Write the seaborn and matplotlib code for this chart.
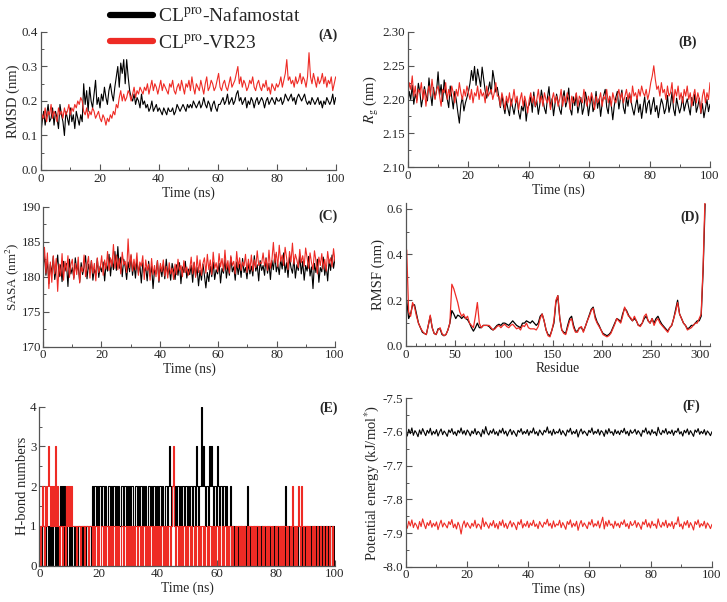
import numpy as np
import matplotlib
matplotlib.use("Agg")
import matplotlib.pyplot as plt
from matplotlib.ticker import MultipleLocator, FormatStrFormatter
import seaborn as sns

# --- series ---
LABELS = [r"CL$^{\rm pro}$-Nafamostat", r"CL$^{\rm pro}$-VR23"]
BLACK = "black"
RED = "#ee2b25"

# (A) RMSD (nm), 0-100 ns
RMSD_NAFA = [
    0.10, 0.14, 0.17, 0.13, 0.16, 0.19, 0.14, 0.15, 0.18, 0.13, 0.17, 0.15, 0.12, 0.19, 0.16, 0.14, 0.10, 0.17, 0.15, 0.13,
    0.18, 0.14, 0.16, 0.12, 0.17, 0.15, 0.13, 0.16, 0.14, 0.25, 0.19, 0.23, 0.17, 0.24, 0.20, 0.18, 0.22, 0.26, 0.19, 0.21,
    0.18, 0.22, 0.20, 0.24, 0.21, 0.19, 0.23, 0.25, 0.22, 0.20, 0.24, 0.27, 0.30, 0.24, 0.31, 0.28, 0.32, 0.25, 0.32, 0.27,
    0.23, 0.21, 0.20, 0.22, 0.19, 0.21, 0.20, 0.18, 0.22, 0.19, 0.20, 0.18, 0.19, 0.17, 0.18, 0.20, 0.17, 0.18, 0.19, 0.17,
    0.18, 0.17, 0.16, 0.18, 0.17, 0.16, 0.18, 0.17, 0.17, 0.18, 0.16, 0.17, 0.19, 0.18, 0.17, 0.18, 0.19, 0.18, 0.17, 0.19,
    0.18, 0.19, 0.18, 0.20, 0.19, 0.18, 0.19, 0.20, 0.18, 0.19, 0.21, 0.19, 0.18, 0.20, 0.19, 0.17, 0.19, 0.20, 0.18, 0.17,
    0.19, 0.19, 0.20, 0.21, 0.19, 0.20, 0.22, 0.19, 0.20, 0.21, 0.19, 0.20, 0.22, 0.23, 0.20, 0.21, 0.19, 0.20, 0.21, 0.18,
    0.20, 0.19, 0.21, 0.20, 0.18, 0.20, 0.21, 0.19, 0.20, 0.21, 0.20, 0.18, 0.20, 0.21, 0.19, 0.20, 0.21, 0.20, 0.19, 0.21,
    0.20, 0.20, 0.21, 0.19, 0.20, 0.22, 0.21, 0.20, 0.21, 0.22, 0.20, 0.21, 0.19, 0.21, 0.22, 0.21, 0.20, 0.21, 0.22, 0.20,
    0.19, 0.20, 0.19, 0.21, 0.20, 0.19, 0.20, 0.21, 0.19, 0.20, 0.18, 0.20, 0.19, 0.21, 0.20, 0.19, 0.20, 0.22, 0.19, 0.21,
]
RMSD_VR23 = [
    0.12, 0.16, 0.15, 0.18, 0.14, 0.17, 0.16, 0.19, 0.15, 0.17, 0.16, 0.14, 0.18, 0.16, 0.17, 0.15, 0.18, 0.16, 0.17, 0.19,
    0.16, 0.18, 0.17, 0.19, 0.18, 0.20, 0.19, 0.21, 0.20, 0.17, 0.16, 0.18, 0.15, 0.17, 0.16, 0.18, 0.17, 0.15, 0.16, 0.17,
    0.15, 0.14, 0.16, 0.15, 0.13, 0.15, 0.14, 0.16, 0.15, 0.17, 0.16, 0.19, 0.18, 0.21, 0.23, 0.20, 0.22, 0.20, 0.21, 0.23,
    0.22, 0.20, 0.22, 0.24, 0.21, 0.23, 0.22, 0.24, 0.23, 0.22, 0.24, 0.23, 0.25, 0.22, 0.24, 0.26, 0.23, 0.25, 0.24, 0.22,
    0.24, 0.26, 0.23, 0.25, 0.24, 0.23, 0.22, 0.25, 0.24, 0.26, 0.23, 0.22, 0.24, 0.25, 0.23, 0.26, 0.24, 0.22, 0.25, 0.24,
    0.26, 0.23, 0.27, 0.24, 0.22, 0.25, 0.24, 0.23, 0.26, 0.24, 0.22, 0.25, 0.27, 0.23, 0.24, 0.26, 0.25, 0.23, 0.24, 0.26,
    0.28, 0.24, 0.23, 0.25, 0.26, 0.24, 0.23, 0.25, 0.27, 0.24, 0.25, 0.26, 0.28, 0.30, 0.25, 0.27, 0.24, 0.26, 0.25, 0.23,
    0.24, 0.26, 0.25, 0.27, 0.24, 0.23, 0.25, 0.26, 0.24, 0.23, 0.25, 0.24, 0.26, 0.23, 0.24, 0.22, 0.25, 0.24, 0.23, 0.25,
    0.24, 0.25, 0.27, 0.24, 0.26, 0.28, 0.32, 0.26, 0.27, 0.25, 0.26, 0.24, 0.27, 0.25, 0.26, 0.28, 0.25, 0.27, 0.26, 0.24,
    0.27, 0.34, 0.27, 0.25, 0.28, 0.26, 0.24, 0.27, 0.25, 0.26, 0.28, 0.25, 0.27, 0.24, 0.26, 0.25, 0.27, 0.23, 0.25, 0.27,
]

# (B) radius of gyration (nm)
RG_NAFA = [
    2.190, 2.212, 2.200, 2.221, 2.193, 2.208, 2.199, 2.224, 2.211, 2.189, 2.203, 2.219, 2.207, 2.198, 2.232, 2.209, 2.191, 2.218, 2.202, 2.213,
    2.241, 2.206, 2.222, 2.197, 2.229, 2.210, 2.201, 2.188, 2.220, 2.203, 2.186, 2.212, 2.199, 2.181, 2.165, 2.192, 2.204, 2.183, 2.195, 2.203,
    2.212, 2.224, 2.243, 2.228, 2.249, 2.221, 2.245, 2.232, 2.219, 2.248, 2.231, 2.213, 2.202, 2.214, 2.226, 2.208, 2.243, 2.229, 2.211, 2.218,
    2.203, 2.188, 2.207, 2.191, 2.179, 2.198, 2.186, 2.176, 2.201, 2.189, 2.178, 2.193, 2.202, 2.181, 2.171, 2.190, 2.183, 2.199, 2.168, 2.188,
    2.192, 2.204, 2.181, 2.211, 2.189, 2.198, 2.178, 2.193, 2.214, 2.200, 2.187, 2.179, 2.203, 2.219, 2.188, 2.201, 2.176, 2.194, 2.208, 2.197,
    2.185, 2.178, 2.202, 2.213, 2.189, 2.199, 2.217, 2.186, 2.177, 2.204, 2.191, 2.209, 2.180, 2.192, 2.203, 2.178, 2.188, 2.211, 2.199, 2.176,
    2.193, 2.205, 2.182, 2.190, 2.212, 2.187, 2.201, 2.175, 2.194, 2.206, 2.215, 2.189, 2.179, 2.204, 2.192, 2.170, 2.191, 2.203, 2.212, 2.186,
    2.201, 2.214, 2.188, 2.179, 2.203, 2.190, 2.209, 2.198, 2.186, 2.177, 2.191, 2.202, 2.181, 2.193, 2.172, 2.189, 2.204, 2.180, 2.194, 2.199,
    2.178, 2.192, 2.203, 2.182, 2.191, 2.173, 2.188, 2.201, 2.193, 2.179, 2.187, 2.206, 2.181, 2.192, 2.211, 2.186, 2.176, 2.202, 2.190, 2.180,
    2.189, 2.204, 2.183, 2.193, 2.201, 2.188, 2.177, 2.203, 2.191, 2.208, 2.181, 2.190, 2.202, 2.179, 2.194, 2.173, 2.186, 2.200, 2.182, 2.193,
]
RG_VR23 = [
    2.200, 2.225, 2.215, 2.235, 2.205, 2.220, 2.195, 2.215, 2.210, 2.225, 2.200, 2.215, 2.190, 2.210, 2.220, 2.205, 2.230, 2.210, 2.200, 2.215,
    2.220, 2.205, 2.190, 2.215, 2.210, 2.225, 2.200, 2.215, 2.205, 2.220, 2.210, 2.195, 2.215, 2.205, 2.225, 2.210, 2.200, 2.215, 2.205, 2.220,
    2.210, 2.200, 2.215, 2.195, 2.210, 2.205, 2.220, 2.200, 2.215, 2.205, 2.210, 2.195, 2.220, 2.205, 2.210, 2.215, 2.200, 2.210, 2.225, 2.205,
    2.205, 2.190, 2.210, 2.200, 2.185, 2.205, 2.195, 2.210, 2.190, 2.200, 2.215, 2.195, 2.205, 2.185, 2.200, 2.210, 2.190, 2.205, 2.195, 2.180,
    2.200, 2.210, 2.195, 2.205, 2.190, 2.200, 2.215, 2.195, 2.205, 2.190, 2.210, 2.200, 2.195, 2.205, 2.185, 2.200, 2.210, 2.195, 2.205, 2.190,
    2.200, 2.215, 2.190, 2.205, 2.195, 2.210, 2.200, 2.185, 2.205, 2.195, 2.200, 2.210, 2.190, 2.205, 2.200, 2.195, 2.215, 2.200, 2.190, 2.205,
    2.195, 2.210, 2.200, 2.185, 2.205, 2.195, 2.200, 2.210, 2.190, 2.205, 2.200, 2.215, 2.195, 2.205, 2.190, 2.210, 2.200, 2.195, 2.205, 2.215,
    2.200, 2.210, 2.195, 2.205, 2.215, 2.200, 2.210, 2.195, 2.220, 2.205, 2.210, 2.200, 2.215, 2.205, 2.220, 2.210, 2.205, 2.215, 2.200, 2.210,
    2.225, 2.235, 2.250, 2.230, 2.215, 2.220, 2.205, 2.225, 2.210, 2.215, 2.200, 2.220, 2.205, 2.210, 2.225, 2.195, 2.215, 2.205, 2.220, 2.200,
    2.210, 2.195, 2.215, 2.205, 2.220, 2.200, 2.210, 2.190, 2.205, 2.215, 2.195, 2.210, 2.200, 2.180, 2.205, 2.215, 2.195, 2.210, 2.200, 2.225,
]

# (C) SASA (nm^2)
SASA_NAFA = [
    181.5, 183.0, 180.2, 182.4, 179.0, 181.8, 180.5, 182.9, 179.6, 181.2, 183.1, 180.0, 181.7, 179.3, 182.2, 180.8, 181.9, 178.6, 182.5, 180.4,
    181.3, 179.8, 182.7, 180.9, 181.6, 179.2, 182.0, 180.3, 181.4, 183.0, 179.7, 181.8, 180.6, 182.3, 179.5, 181.1, 180.2, 182.6, 179.9, 181.5,
    180.7, 182.1, 179.4, 181.9, 180.8, 183.2, 180.1, 182.4, 181.0, 183.6, 180.9, 184.3, 181.2, 182.8, 180.0, 182.5, 181.4, 179.6, 182.1, 180.7,
    183.0, 180.2, 181.9, 179.8, 182.4, 180.5, 181.7, 179.1, 182.0, 180.6, 181.3, 179.4, 182.2, 180.1, 181.5, 178.3, 181.0, 180.4, 182.3, 179.2,
    181.6, 180.0, 181.8, 179.7, 182.5, 180.3, 181.2, 179.5, 181.9, 180.8, 179.6, 181.7, 180.2, 182.0, 179.0, 181.4, 180.6, 182.2, 179.8, 181.1,
    180.3, 181.6, 179.2, 182.0, 180.1, 181.3, 178.7, 180.9, 179.5, 181.8, 180.2, 178.4, 180.6, 179.3, 181.5, 180.0, 182.1, 179.6, 181.0, 180.4,
    181.9, 179.1, 181.2, 180.5, 182.4, 179.8, 181.6, 180.2, 182.8, 180.7, 181.4, 179.5, 182.1, 180.3, 181.8, 179.9, 182.6, 180.6, 181.3, 179.7,
    182.0, 180.4, 181.5, 180.1, 183.0, 180.8, 181.7, 179.4, 182.3, 180.9, 181.6, 180.2, 182.7, 180.5, 181.9, 179.6, 182.3, 181.0, 183.2, 180.7,
    181.8, 180.3, 182.5, 181.1, 183.4, 180.6, 182.0, 179.9, 182.8, 181.3, 180.5, 182.6, 179.8, 181.7, 180.9, 183.0, 180.4, 182.2, 179.5, 181.6,
    180.8, 182.9, 180.1, 181.4, 178.3, 181.9, 180.6, 182.5, 179.2, 181.3, 180.7, 182.8, 180.2, 181.6, 179.4, 182.4, 180.9, 183.1, 181.2, 182.6,
]
SASA_VR23 = [
    181.0, 184.2, 180.5, 183.4, 178.3, 182.1, 179.2, 183.0, 180.4, 182.6, 177.9, 181.8, 180.1, 183.3, 179.5, 182.2, 180.8, 183.0, 179.9, 181.7,
    182.5, 179.6, 181.9, 180.3, 182.8, 179.1, 181.4, 180.7, 183.1, 180.0, 181.6, 182.9, 179.8, 182.3, 180.5, 181.9, 179.4, 182.7, 180.6, 181.3,
    183.0, 180.2, 182.4, 181.1, 183.6, 180.9, 182.7, 181.4, 184.6, 181.2, 183.1, 181.0, 182.6, 180.4, 183.5, 181.7, 182.2, 180.6, 185.4, 181.3,
    183.2, 180.8, 182.5, 181.0, 183.4, 180.2, 182.1, 181.5, 183.0, 179.6, 182.4, 180.9, 181.8, 179.5, 182.6, 180.3, 181.6, 180.0, 182.3, 179.4,
    181.9, 180.7, 182.4, 180.1, 181.5, 179.8, 182.0, 180.4, 181.2, 179.6, 181.8, 180.3, 182.5, 180.9, 181.6, 180.0, 182.3, 180.6, 181.4, 180.2,
    181.1, 182.8, 180.4, 182.1, 179.9, 183.0, 180.6, 182.4, 180.2, 181.9, 182.7, 180.5, 183.2, 181.0, 182.4, 180.3, 183.5, 181.2, 182.0, 180.7,
    183.3, 181.4, 182.6, 180.8, 183.8, 181.1, 182.3, 180.5, 183.0, 181.6, 182.2, 180.4, 183.6, 181.3, 182.7, 180.9, 182.1, 181.5, 183.2, 180.6,
    182.5, 181.0, 183.1, 180.8, 182.4, 181.3, 183.7, 181.6, 182.0, 181.9, 183.4, 181.5, 182.6, 180.9, 183.8, 181.2, 182.4, 184.9, 182.0, 183.5,
    181.4, 184.5, 182.2, 183.1, 181.6, 184.2, 182.7, 181.0, 183.6, 182.1, 184.8, 181.8, 183.2, 182.4, 181.3, 183.9, 182.0, 183.0, 181.5, 184.1,
    182.6, 181.2, 183.4, 182.0, 181.0, 183.7, 182.3, 180.4, 182.8, 181.6, 183.3, 181.1, 182.5, 180.8, 183.6, 181.9, 182.7, 181.4, 184.0, 182.2,
]

# (D) RMSF (nm) per residue, every second residue from 1 to 305
RMSF_NAFA = [
    0.20, 0.12, 0.14, 0.18, 0.18, 0.14, 0.10, 0.08, 0.06, 0.055, 0.05, 0.09, 0.13, 0.08, 0.055, 0.05, 0.075, 0.075, 0.05, 0.045,
    0.05, 0.07, 0.10, 0.155, 0.14, 0.12, 0.135, 0.13, 0.12, 0.13, 0.12, 0.115, 0.10, 0.08, 0.065, 0.08, 0.10, 0.08, 0.08, 0.09,
    0.09, 0.09, 0.085, 0.075, 0.07, 0.08, 0.09, 0.095, 0.09, 0.10, 0.10, 0.095, 0.09, 0.10, 0.11, 0.10, 0.09, 0.085, 0.08, 0.10,
    0.10, 0.11, 0.105, 0.10, 0.11, 0.10, 0.09, 0.10, 0.13, 0.14, 0.11, 0.07, 0.05, 0.045, 0.07, 0.10, 0.19, 0.22, 0.12, 0.07,
    0.06, 0.055, 0.09, 0.12, 0.13, 0.09, 0.065, 0.065, 0.08, 0.08, 0.065, 0.085, 0.11, 0.135, 0.16, 0.17, 0.13, 0.105, 0.09, 0.07,
    0.055, 0.05, 0.045, 0.05, 0.06, 0.08, 0.10, 0.12, 0.115, 0.105, 0.14, 0.165, 0.155, 0.135, 0.12, 0.11, 0.12, 0.11, 0.09, 0.09,
    0.10, 0.12, 0.13, 0.11, 0.10, 0.12, 0.10, 0.12, 0.13, 0.11, 0.095, 0.085, 0.075, 0.065, 0.08, 0.09, 0.12, 0.16, 0.20, 0.14,
    0.12, 0.10, 0.09, 0.075, 0.08, 0.09, 0.09, 0.10, 0.11, 0.11, 0.13, 0.33, 0.62,
]
RMSF_VR23 = [
    0.42, 0.15, 0.13, 0.19, 0.17, 0.13, 0.10, 0.08, 0.065, 0.055, 0.05, 0.09, 0.135, 0.08, 0.055, 0.05, 0.07, 0.08, 0.055, 0.045,
    0.05, 0.07, 0.10, 0.27, 0.25, 0.22, 0.19, 0.15, 0.13, 0.14, 0.12, 0.13, 0.10, 0.09, 0.08, 0.13, 0.19, 0.10, 0.08, 0.09,
    0.09, 0.09, 0.09, 0.08, 0.07, 0.075, 0.085, 0.09, 0.08, 0.09, 0.095, 0.085, 0.08, 0.09, 0.095, 0.085, 0.075, 0.08, 0.07, 0.09,
    0.085, 0.10, 0.08, 0.075, 0.075, 0.075, 0.07, 0.085, 0.12, 0.14, 0.11, 0.07, 0.045, 0.04, 0.07, 0.11, 0.20, 0.22, 0.12, 0.07,
    0.055, 0.05, 0.08, 0.11, 0.12, 0.08, 0.06, 0.06, 0.08, 0.085, 0.06, 0.085, 0.11, 0.13, 0.155, 0.165, 0.12, 0.10, 0.085, 0.07,
    0.05, 0.045, 0.04, 0.045, 0.055, 0.075, 0.095, 0.12, 0.11, 0.10, 0.13, 0.17, 0.15, 0.13, 0.125, 0.11, 0.13, 0.11, 0.09, 0.085,
    0.10, 0.13, 0.14, 0.11, 0.10, 0.12, 0.09, 0.11, 0.12, 0.10, 0.09, 0.08, 0.07, 0.06, 0.08, 0.09, 0.12, 0.15, 0.19, 0.14,
    0.12, 0.10, 0.09, 0.07, 0.075, 0.08, 0.09, 0.10, 0.10, 0.12, 0.14, 0.35, 0.66,
]

# (E) number of H-bonds, frames every 1/3 ns
HB_NAFA = [
    0, 0, 1, 0, 0, 1, 0, 1, 1, 0, 1, 0, 1, 0, 1, 1, 0, 1, 0, 1, 1, 2, 1, 2, 0, 2, 1, 0, 1, 0,
    0, 1, 0, 1, 0, 0, 1, 0, 1, 0, 1, 1, 0, 1, 0, 1, 1, 0, 1, 1, 0, 1, 1, 0,
    2, 1, 2, 2, 1, 2, 1, 2, 2, 1, 2, 2, 1, 2, 1, 1, 2, 2, 1, 2, 1, 2, 2, 1, 2, 1, 2, 1, 1, 2,
    2, 1, 2, 2, 1, 2, 1, 2, 1, 2, 2, 1, 1, 2, 2, 1, 2, 1, 2, 2, 1, 2, 1, 2, 1, 1, 2, 2, 1, 2,
    1, 2, 2, 1, 2, 1, 2, 1, 2, 2, 1, 2, 1, 1, 2, 2, 1, 2, 3, 2, 1, 2, 2, 1, 2, 1, 2, 2, 1, 2,
    1, 2, 2, 1, 2, 2, 1, 2, 1, 2, 2, 1, 2, 2, 1, 3, 2, 1, 2, 2, 4, 2, 3, 2, 1, 2, 2, 1, 3, 2,
    3, 2, 1, 2, 2, 1, 3, 2, 1, 2, 2, 1, 2, 2, 1, 2,
    1, 0, 1, 2, 0, 1, 1, 0, 1, 0, 0, 1, 0, 1, 1, 0, 0, 1, 0, 1, 0, 2, 1, 0, 1, 0, 0, 1, 1, 0,
    1, 0, 1, 0, 0, 1, 1, 0, 1, 0, 0, 1, 0, 1, 0, 0, 1, 0, 1, 1, 0, 1, 0, 0, 1, 0, 1, 1, 0, 2,
    1, 0, 1, 0, 0, 1, 0, 1, 0, 0, 1, 0, 1, 1, 0, 1, 0, 0, 1, 0, 1, 1, 0, 1, 0, 1, 0, 1, 1, 0,
    1, 0, 1, 0, 1, 1, 0, 1, 0, 1, 1, 0, 1, 0, 1, 1, 0, 1, 0, 1,
]
HB_VR23 = [
    1, 0, 1, 2, 1, 0, 2, 1, 2, 3, 2, 1, 2, 1, 2, 1, 3, 1, 2, 1, 0, 1, 1, 0, 1, 1, 0, 2, 1, 2,
    1, 2, 1, 2, 1, 1, 1, 1, 0, 1, 1, 1, 0, 1, 1, 1, 0, 1, 1, 1, 0, 1, 1, 1,
    0, 1, 0, 1, 1, 0, 1, 0, 0, 1, 1, 0, 1, 0, 1, 1, 0, 1, 0, 1, 0, 1, 1, 0, 1, 0, 1, 0, 0, 1,
    1, 0, 1, 1, 0, 1, 0, 1, 0, 1, 0, 1, 0, 1, 1, 0, 1, 1, 0, 1, 0, 1, 1, 0, 1, 0, 1, 0, 1, 1,
    0, 1, 0, 1, 1, 0, 1, 0, 1, 0, 1, 1, 0, 1, 0, 1, 0, 1, 1, 0, 1, 2, 3, 1, 0, 1, 1, 0, 1, 0,
    1, 0, 1, 1, 0, 1, 0, 1, 1, 0, 1, 0, 0, 1, 0, 1, 1, 0, 1, 0, 1, 1, 0, 1, 0, 0, 1, 0, 1, 1,
    0, 1, 0, 1, 0, 1, 1, 0, 1, 0, 0, 1, 0, 1, 1, 0, 1, 0, 1, 1, 0, 1, 0, 0, 1, 0, 1, 1, 0, 1,
    0, 1, 0, 1, 1, 0, 0, 1, 0, 1, 1, 0, 1, 0, 1, 0, 1, 1, 0, 1, 0, 0, 1, 0, 1, 1, 0, 1, 0, 1,
    1, 0, 1, 0, 0, 1, 0, 1, 1, 0, 1, 0, 1, 0, 1, 1, 0, 1, 0, 0, 1, 0, 2, 1, 0, 1, 0, 1, 2, 1,
    0, 2, 1, 0, 1, 1, 0, 1, 0, 1, 0, 0, 1, 0, 1, 0, 0, 1, 0, 0, 1, 0, 0, 1, 0, 0, 1, 0, 0, 1,
    0, 0, 1, 0, 0, 1,
]

# (F) potential energy (kJ/mol*)
EPOT_NAFA = [
    -7.598, -7.612, -7.592, -7.605, -7.588, -7.610, -7.596, -7.603, -7.614, -7.594, -7.607, -7.590, -7.601, -7.611, -7.595, -7.604, -7.589, -7.609, -7.598, -7.606,
    -7.593, -7.612, -7.600, -7.591, -7.608, -7.597, -7.604, -7.613, -7.594, -7.602, -7.590, -7.607, -7.599, -7.611, -7.595, -7.603, -7.588, -7.606, -7.596, -7.609,
    -7.594, -7.601, -7.612, -7.597, -7.605, -7.590, -7.608, -7.598, -7.603, -7.614, -7.593, -7.606, -7.584, -7.602, -7.609, -7.596, -7.604, -7.591, -7.607, -7.599,
    -7.611, -7.594, -7.603, -7.589, -7.606, -7.597, -7.612, -7.600, -7.592, -7.608, -7.596, -7.604, -7.613, -7.595, -7.601, -7.590, -7.607, -7.598, -7.605, -7.593,
    -7.610, -7.597, -7.603, -7.588, -7.606, -7.599, -7.611, -7.594, -7.602, -7.609, -7.595, -7.601, -7.585, -7.604, -7.597, -7.610, -7.592, -7.606, -7.599, -7.603,
    -7.591, -7.608, -7.596, -7.604, -7.612, -7.594, -7.601, -7.589, -7.607, -7.598, -7.605, -7.593, -7.615, -7.600, -7.591, -7.606, -7.597, -7.603, -7.611, -7.595,
    -7.602, -7.588, -7.607, -7.598, -7.604, -7.592, -7.609, -7.596, -7.601, -7.613, -7.594, -7.606, -7.590, -7.603, -7.599, -7.610, -7.593, -7.605, -7.597, -7.608,
    -7.595, -7.602, -7.589, -7.606, -7.598, -7.611, -7.594, -7.604, -7.600, -7.592, -7.607, -7.596, -7.603, -7.613, -7.595, -7.601, -7.588, -7.606, -7.597, -7.609,
    -7.593, -7.604, -7.599, -7.611, -7.586, -7.602, -7.608, -7.595, -7.603, -7.590, -7.607, -7.598, -7.605, -7.594, -7.610, -7.597, -7.601, -7.589, -7.606, -7.599,
    -7.612, -7.595, -7.603, -7.591, -7.608, -7.596, -7.604, -7.613, -7.594, -7.601, -7.590, -7.607, -7.598, -7.605, -7.593, -7.609, -7.597, -7.603, -7.611, -7.599,
]
EPOT_VR23 = [
    -7.872, -7.886, -7.865, -7.879, -7.861, -7.884, -7.870, -7.877, -7.889, -7.866, -7.881, -7.858, -7.874, -7.887, -7.869, -7.878, -7.863, -7.883, -7.871, -7.880,
    -7.867, -7.890, -7.874, -7.862, -7.882, -7.870, -7.877, -7.885, -7.866, -7.875, -7.860, -7.884, -7.873, -7.888, -7.868, -7.879, -7.903, -7.876, -7.864, -7.883,
    -7.869, -7.878, -7.886, -7.871, -7.880, -7.862, -7.885, -7.873, -7.877, -7.889, -7.855, -7.881, -7.867, -7.876, -7.886, -7.870, -7.879, -7.863, -7.884, -7.872,
    -7.888, -7.866, -7.878, -7.861, -7.883, -7.871, -7.887, -7.874, -7.864, -7.882, -7.869, -7.877, -7.890, -7.867, -7.875, -7.860, -7.885, -7.872, -7.880, -7.865,
    -7.884, -7.870, -7.878, -7.862, -7.881, -7.873, -7.887, -7.866, -7.876, -7.883, -7.868, -7.874, -7.859, -7.879, -7.871, -7.886, -7.864, -7.882, -7.873, -7.877,
    -7.862, -7.884, -7.869, -7.878, -7.889, -7.866, -7.875, -7.861, -7.883, -7.871, -7.880, -7.865, -7.892, -7.874, -7.863, -7.881, -7.870, -7.878, -7.887, -7.867,
    -7.876, -7.860, -7.882, -7.872, -7.879, -7.864, -7.885, -7.869, -7.853, -7.888, -7.866, -7.880, -7.862, -7.877, -7.873, -7.886, -7.865, -7.879, -7.871, -7.884,
    -7.867, -7.875, -7.861, -7.881, -7.872, -7.887, -7.866, -7.878, -7.874, -7.863, -7.883, -7.869, -7.877, -7.889, -7.867, -7.875, -7.860, -7.882, -7.870, -7.885,
    -7.865, -7.878, -7.873, -7.886, -7.858, -7.876, -7.883, -7.868, -7.879, -7.862, -7.884, -7.871, -7.880, -7.866, -7.887, -7.870, -7.874, -7.852, -7.881, -7.873,
    -7.888, -7.867, -7.877, -7.863, -7.884, -7.869, -7.878, -7.891, -7.866, -7.875, -7.861, -7.883, -7.872, -7.879, -7.865, -7.886, -7.870, -7.877, -7.887, -7.874,
]

# --- style ---
sns.set_theme(style="ticks")
plt.rcParams["font.family"] = ["Liberation Serif", "DejaVu Serif"]
plt.rcParams["mathtext.fontset"] = "stix"
plt.rcParams["axes.unicode_minus"] = False

SPINE = "#555555"


def pair(ax, x, a, b, lw=0.8, **kw):
    sns.lineplot(x=x, y=a, ax=ax, color=BLACK, lw=lw, label=LABELS[0], legend=False, **kw)
    sns.lineplot(x=x, y=b, ax=ax, color=RED, lw=lw, label=LABELS[1], legend=False, **kw)


def style(ax, xlim, xmaj, xmin, ylim, ymaj, ymin, yfmt, xlabel, ylabel, tag, tagxy):
    ax.set_xlim(*xlim)
    ax.set_ylim(*ylim)
    ax.xaxis.set_major_locator(MultipleLocator(xmaj))
    ax.xaxis.set_minor_locator(MultipleLocator(xmin))
    ax.yaxis.set_major_locator(MultipleLocator(ymaj))
    ax.yaxis.set_minor_locator(MultipleLocator(ymin))
    ax.yaxis.set_major_formatter(FormatStrFormatter(yfmt))
    ax.tick_params(which="both", direction="in", color=SPINE, labelsize=9.4, pad=2,
                   top=False, right=False)
    ax.tick_params(which="major", length=4, width=0.8)
    ax.tick_params(which="minor", length=2.5, width=0.7)
    for side in ("top", "right"):
        ax.spines[side].set_visible(False)
    for side in ("left", "bottom"):
        ax.spines[side].set_color(SPINE)
        ax.spines[side].set_linewidth(0.9)
    ax.set_xlabel(xlabel, fontsize=9.8, labelpad=1)
    ax.set_ylabel(ylabel, fontsize=10.5, labelpad=1)
    ax.text(tagxy[0], tagxy[1], tag, transform=ax.transAxes, ha="right", va="center",
            fontsize=10, fontweight="bold")


W, H = 727, 602
fig = plt.figure(figsize=(W / 100, H / 100), dpi=100)


def box(x0, x1, y0, y1):
    # pixel box -> figure fraction rect
    return [x0 / W, 1 - y1 / H, (x1 - x0) / W, (y1 - y0) / H]


C_LEFT = 43
axA = fig.add_axes(box(40.7, 335.7, 32, 170))
axB = fig.add_axes(box(407.7, 710, 32, 167))
axC = fig.add_axes(box(C_LEFT, 335, 206.7, 346.7))
axD = fig.add_axes(box(405.7, 710, 203, 346))
axE = fig.add_axes(box(39.3, 335, 406.7, 565.7))
axF = fig.add_axes(box(405.7, 712, 398.3, 566.7))

pair(axA, np.linspace(0, 100, len(RMSD_NAFA)), RMSD_NAFA, RMSD_VR23)
style(axA, (0, 100), 20, 10, (0, 0.4), 0.1, 0.05, "%.1f", "Time (ns)", "RMSD (nm)", "(A)", (1.005, 0.975))

pair(axB, np.linspace(0, 100, len(RG_NAFA)), RG_NAFA, RG_VR23)
style(axB, (0, 100), 20, 10, (2.10, 2.30), 0.05, 0.025, "%.2f", "Time (ns)", r"$R_{\rm g}$ (nm)", "(B)", (0.955, 0.925))

pair(axC, np.linspace(0, 100, len(SASA_NAFA)), SASA_NAFA, SASA_VR23)
style(axC, (0, 100), 20, 10, (170, 190), 5, 2.5, "%d", "Time (ns)", r"SASA (nm$^2$)", "(C)", (1.01, 0.93))
# SASA label: centre it at a fixed x so it clears both the edge and the tick labels
axC.tick_params(axis="y", pad=1.5)
axC.yaxis.label.set_fontsize(9.4)
axC.yaxis.label.set_verticalalignment("center")
axC.yaxis.set_label_coords((12.5 - C_LEFT) / (335 - C_LEFT), 0.5)

residues = np.arange(1, 2 * len(RMSF_NAFA), 2)
pair(axD, residues, RMSF_NAFA, RMSF_VR23, lw=0.9)
style(axD, (0, 310), 50, 10, (0, 0.625), 0.2, 0.1, "%.1f", "Residue", "RMSF (nm)", "(D)", (0.967, 0.90))

pair(axE, np.linspace(0, 100, len(HB_NAFA)), HB_NAFA, HB_VR23, lw=0.8, drawstyle="steps-mid")
style(axE, (0, 100), 20, 10, (0, 4), 1, 0.5, "%d", "Time (ns)", "H-bond numbers", "(E)", (1.01, 0.99))

pair(axF, np.linspace(0, 100, len(EPOT_NAFA)), EPOT_NAFA, EPOT_VR23)
style(axF, (0, 100), 20, 10, (-8.0, -7.5), 0.1, 0.05, "%.1f", "Time (ns)", r"Potential energy (kJ/mol$^{*}$)", "(F)", (0.961, 0.95))

handles, labels = axA.get_legend_handles_labels()
leg = fig.legend(handles, labels, loc="upper left", bbox_to_anchor=(110 / W, 1 - 7 / H),
                 frameon=False, fontsize=14, handlelength=2.2, handletextpad=0.25,
                 labelspacing=0.4, borderpad=0, borderaxespad=0)
for h in leg.legend_handles:
    h.set_linewidth(4.5)

fig.savefig("out.png", dpi=100)
